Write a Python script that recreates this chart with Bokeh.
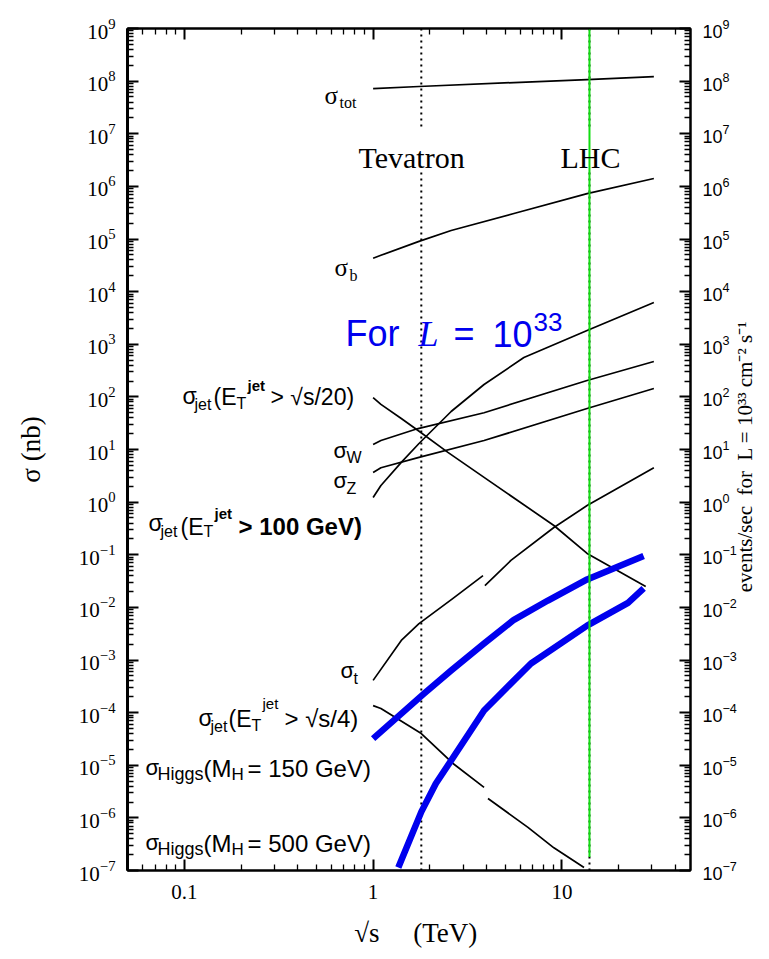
import numpy as np
from bokeh.plotting import figure
from bokeh.models import LogAxis, FixedTicker, CustomJSTickFormatter, Range1d
from bokeh.core.properties import value
from bokeh.embed import file_html
from bokeh.resources import INLINE

# ---------------- data (sqrt(s) in TeV, sigma in nb) ----------------
sqrt_s_tot = [1.0, 1.75, 5.57, 13.6, 30.7]
sigma_tot = [7.2e7, 7.9e7, 9.4e7, 1.07e8, 1.22e8]

sqrt_s_b = [1.0, 1.10, 1.75, 2.59, 5.57, 13.6, 30.7]
sigma_b = [4.3e4, 4.9e4, 9.0e4, 1.45e5, 3.05e5, 7.3e5, 1.41e6]

sqrt_s_jet20 = [1.0, 1.10, 1.41, 1.73, 2.49, 4.21, 9.07, 13.6, 27.8]
sigma_jet20 = [97, 72, 38.8, 23, 8.8, 2.4, 0.36, 0.106, 0.025]

sqrt_s_wz = [1.0, 1.10, 1.73, 3.87, 13.6, 30.7]
sigma_w = [12.4, 14.8, 25, 50, 205, 470]
sigma_z = [3.66, 4.5, 7.0, 14.8, 60, 144]

sqrt_s_jet100 = [1.0, 1.10, 1.41, 1.75, 2.59, 3.87, 6.29, 13.6, 30.7]
sigma_jet100 = [1.22, 2.07, 5.7, 13.0, 52.7, 172, 560, 1820, 6200]

sqrt_s_top_ppbar = [1.0, 1.41, 1.75, 2.65, 3.82]
sigma_top_ppbar = [4.1e-4, 2.35e-3, 4.9e-3, 0.0148, 0.040]
sqrt_s_top_pp = [3.91, 5.37, 9.07, 13.6, 30.7]
sigma_top_pp = [0.026, 0.078, 0.33, 0.86, 4.5]

sqrt_s_jet4_ppbar = [1.0, 1.10, 1.80, 2.65, 3.87]
sigma_jet4_ppbar = [1.36e-4, 1.2e-4, 4.0e-5, 1.08e-5, 3.8e-6]
sqrt_s_jet4_pp = [4.06, 6.61, 9.07, 13.1]
sigma_jet4_pp = [2.33e-6, 6.6e-7, 2.7e-7, 1.14e-7]

sqrt_s_h150 = [1.0, 1.86, 2.59, 3.87, 5.57, 8.43, 13.6, 20.5, 27.1]
sigma_h150 = [3.2e-5, 2.3e-4, 6.3e-4, 2.06e-3, 5.8e-3, 0.0135, 0.034, 0.0625, 0.095]

sqrt_s_h500 = [1.36, 1.80, 2.15, 2.59, 3.87, 6.86, 13.6, 22.4, 27.1]
sigma_h500 = [1.14e-7, 1.3e-6, 4.5e-6, 1.23e-5, 1.1e-4, 8.6e-4, 4.5e-3, 0.0122, 0.0229]

tevatron_energy = 1.8
lhc_energy = 14.0
sigma_axis_limits = [1e-7, 1e9]
label_gap = [1.15e7, 1.84e6]     # break in the dotted lines for the collider names
lhc_green_bottom = 1.8e-7

y_major = [10.0 ** k for k in range(-7, 10)]
y_minor = [m * 10.0 ** k for k in range(-7, 9) for m in range(2, 10)]
x_major = [0.1, 1, 10]
x_minor = [0.05, 0.06, 0.07, 0.08, 0.09, 0.2, 0.3, 0.4, 0.5, 0.6, 0.7, 0.8, 0.9,
           2, 3, 4, 5, 6, 7, 8, 9, 20, 30, 40]
x_tick_labels = {0.1: "0.1", 1: "1", 10: "10"}

# ---------------- figure ----------------
X0, X1 = 0.05, 48.0
FRAME_L, FRAME_T, FRAME_W, FRAME_H = 127, 28, 563, 842   # page pixels

p = figure(frame_width=FRAME_W, frame_height=FRAME_H, x_axis_type="log", y_axis_type="log",
           x_range=Range1d(X0, X1), y_range=Range1d(1e-7, 1e9),
           output_backend="svg", toolbar_location=None,
           min_border_left=FRAME_L, min_border_right=769 - FRAME_L - FRAME_W,
           min_border_top=FRAME_T, min_border_bottom=958 - FRAME_T - FRAME_H,
           background_fill_color="white", border_fill_color="white")
p.grid.visible = False
p.outline_line_color = "black"
p.outline_line_width = 2


def px_x(ix):
    lx0, lx1 = np.log10(X0), np.log10(X1)
    return 10 ** (lx0 + (ix - FRAME_L) / FRAME_W * (lx1 - lx0))


def px_y(iy):
    return 10 ** (9 - (iy - FRAME_T) / FRAME_H * 16)


yt = FixedTicker(ticks=y_major, minor_ticks=y_minor)
xt = FixedTicker(ticks=x_major, minor_ticks=x_minor)


def style_axis(ax, width=2):
    ax.major_tick_in = 11
    ax.major_tick_out = 0
    ax.minor_tick_in = 6
    ax.minor_tick_out = 0
    ax.axis_line_width = width
    ax.major_tick_line_width = 2
    ax.minor_tick_line_width = 1.3
    ax.axis_line_color = "black"
    ax.major_tick_line_color = "black"
    ax.minor_tick_line_color = "black"
    ax.major_label_text_color = "black"
    ax.axis_label_text_color = "black"
    ax.axis_label_text_font_style = "normal"


NB = "\u00a0"

left = p.yaxis[0]
left.ticker = yt
style_axis(left, 3)
left.major_label_text_font = "Liberation Serif"
left.major_label_text_font_size = "21px"
left.major_label_standoff = 12
left.axis_label = "σ (nb)"
left.axis_label_text_font = "Liberation Serif"
left.axis_label_text_font_size = "27px"
left.axis_label_standoff = 30

bottom = p.xaxis[0]
bottom.ticker = xt
style_axis(bottom)
bottom.major_label_overrides = x_tick_labels
bottom.major_label_text_font = "Liberation Serif"
bottom.major_label_text_font_size = "21px"
bottom.major_label_standoff = 14
bottom.axis_label = NB * 2 + "√s" + NB * 5 + "(TeV)"
bottom.axis_label_text_font = "Liberation Serif"
bottom.axis_label_text_font_size = "27px"
bottom.axis_label_standoff = 16

right_title = "events/sec" + NB * 2 + "for" + NB * 2 + "L = 10³³ cm⁻² s⁻¹"
right = LogAxis(ticker=yt)
style_axis(right)
right.major_label_text_font = "Liberation Sans"
right.major_label_text_font_size = "18px"
right.major_label_standoff = 12
right.axis_label_text_font = "Liberation Serif"
right.axis_label_text_font_size = "21px"
right.axis_label_standoff = 5
try:
    right.axis_label_orientation = np.pi / 2
except Exception:
    pass
if "axis_label_align" in LogAxis.properties():
    # text is laid out from the start of the axis (bottom) upward; pad to lift it
    right.axis_label_align = "start"
    right.axis_label = NB * 53 + right_title
else:
    right.axis_label = right_title
p.add_layout(right, "right")

top = LogAxis(ticker=xt, formatter=CustomJSTickFormatter(code="return ''"))
style_axis(top)
top.major_label_text_font_size = "1px"
top.major_label_standoff = 0
p.add_layout(top, "above")

# ---------------- collider lines ----------------
for e in (tevatron_energy, lhc_energy):
    p.line([e, e], [sigma_axis_limits[1], label_gap[0]], line_color="black",
           line_width=2, line_dash="2 4")
    p.line([e, e], [label_gap[1], sigma_axis_limits[0]], line_color="black",
           line_width=2, line_dash="2 4")

# ---------------- curves ----------------
black = dict(line_color="black", line_width=1.7, line_join="round")
p.line(sqrt_s_tot, sigma_tot, **black)
p.line(sqrt_s_b, sigma_b, **black)
p.line(sqrt_s_jet20, sigma_jet20, **black)
p.line(sqrt_s_wz, sigma_w, **black)
p.line(sqrt_s_wz, sigma_z, **black)
p.line(sqrt_s_jet100, sigma_jet100, **black)
p.line(sqrt_s_top_ppbar, sigma_top_ppbar, **black)
p.line(sqrt_s_top_pp, sigma_top_pp, **black)
p.line(sqrt_s_jet4_ppbar, sigma_jet4_ppbar, **black)
p.line(sqrt_s_jet4_pp, sigma_jet4_pp, **black)

p.line(sqrt_s_h150, sigma_h150, line_color="#0000ee", line_width=6.5, line_join="round")
p.line(sqrt_s_h500, sigma_h500, line_color="#0000ee", line_width=6.5, line_join="round")

p.line([lhc_energy, lhc_energy], [sigma_axis_limits[1], lhc_green_bottom],
       line_color="#11dd11", line_width=2)

# ---------------- in-plot labels ----------------
SERIF = "Liberation Serif"
SANS = "Liberation Sans"
K, B = "black", "#0000ee"

pieces = [
    # text, page x, page baseline y, size, font, style, color
    ("σ", 324, 95, 25, SERIF, "normal", K), ("tot", 339, 102, 16, SERIF, "normal", K),
    ("σ", 334, 267, 25, SERIF, "normal", K), ("b", 349, 275, 16, SERIF, "normal", K),
    ("Tevatron", 358, 157, 30, SERIF, "normal", K),
    ("LHC", 560, 157, 30, SERIF, "normal", K),
    ("σ", 182, 395, 23, SANS, "normal", K), ("jet", 194, 404, 16, SANS, "normal", K),
    ("(E", 213, 396, 23, SANS, "normal", K), ("T", 236, 403, 16, SANS, "normal", K),
    ("jet", 247, 385, 15, SANS, "bold", K), ("> √s/20)", 270, 396, 23, SANS, "normal", K),
    ("σ", 333, 450, 22, SANS, "normal", K), ("W", 346, 457, 16, SANS, "normal", K),
    ("σ", 333, 480, 22, SANS, "normal", K), ("Z", 346, 488, 16, SANS, "normal", K),
    ("σ", 148, 522, 23, SANS, "normal", K), ("jet", 160, 531, 16, SANS, "normal", K),
    ("(E", 180, 526, 23, SANS, "normal", K), ("T", 203, 531, 16, SANS, "normal", K),
    ("jet", 214, 513, 15, SANS, "bold", K), ("> 100 GeV)", 238, 526, 24, SANS, "bold", K),
    ("σ", 340, 670, 22, SANS, "normal", K), ("t", 353, 678, 16, SANS, "normal", K),
    ("σ", 198, 717, 23, SANS, "normal", K), ("jet", 210, 726, 16, SANS, "normal", K),
    ("(E", 228, 718, 23, SANS, "normal", K), ("T", 251, 725, 16, SANS, "normal", K),
    ("jet", 262, 703, 15, SANS, "normal", K), ("> √s/4)", 284, 718, 24, SANS, "normal", K),
    ("σ", 145, 767, 22, SANS, "normal", K), ("Higgs", 157, 773, 18, SANS, "normal", K),
    ("(M", 203, 768, 24, SANS, "normal", K), ("H", 231, 774, 17, SANS, "normal", K),
    ("= 150 GeV)", 247, 768, 24, SANS, "normal", K),
    ("σ", 145, 842, 22, SANS, "normal", K), ("Higgs", 157, 848, 18, SANS, "normal", K),
    ("(M", 203, 843, 24, SANS, "normal", K), ("H", 231, 849, 17, SANS, "normal", K),
    ("= 500 GeV)", 247, 843, 24, SANS, "normal", K),
    ("For", 345, 333, 36, SANS, "normal", B),
    ("L", 418, 333, 36, SERIF, "italic", B),
    ("=", 453, 333, 36, SANS, "normal", B),
    ("10", 492, 333, 36, SANS, "normal", B),
    ("33", 533, 321, 26, SANS, "normal", B),
]

for t, ix, iy, size, font, fstyle, color in pieces:
    p.text(x=[px_x(ix)], y=[px_y(iy)], text=[t], text_font=value(font),
           text_font_size=f"{size}px", text_font_style=fstyle, text_color=color,
           text_align="left", text_baseline="alphabetic")

open("out.html", "w").write(file_html(p, INLINE))
